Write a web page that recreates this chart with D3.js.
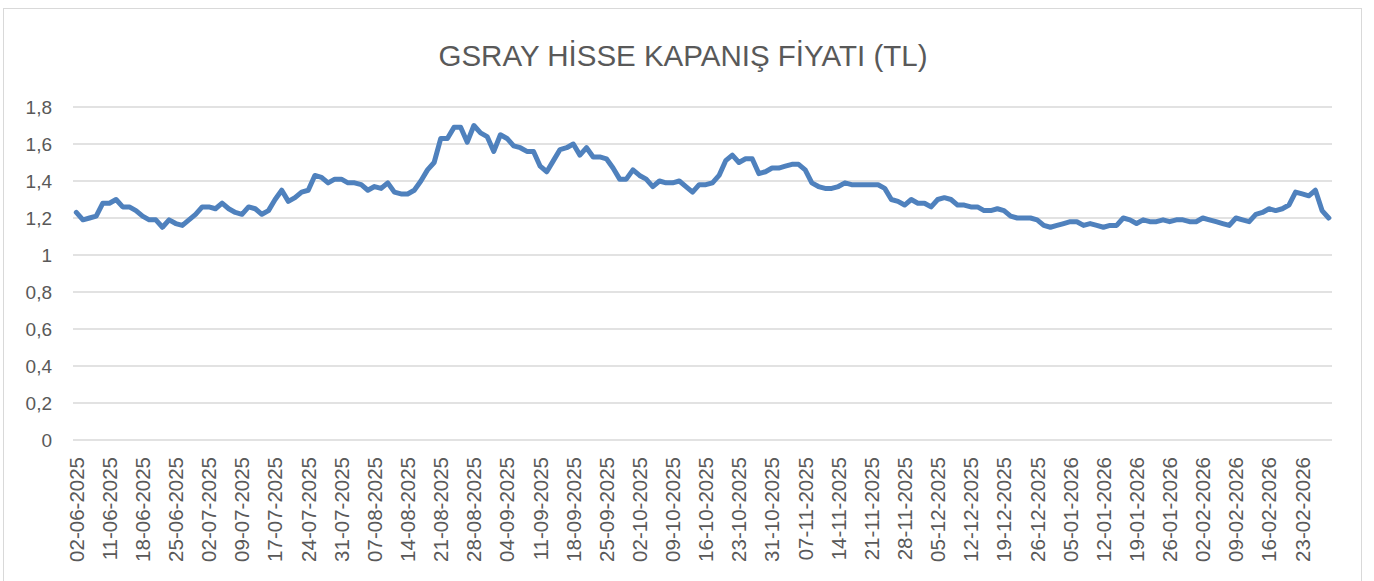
<!DOCTYPE html>
<html>
<head>
<meta charset="utf-8">
<script src="https://cdn.jsdelivr.net/npm/d3@7"></script>
<style>
  html, body { margin: 0; padding: 0; background: #ffffff; }
  svg { display: block; }
</style>
</head>
<body>
<svg id="chart" width="1374" height="581"></svg>
<script>
const title = "GSRAY HİSSE KAPANIŞ FİYATI (TL)";

const dates = [
  "02-06-2025","03-06-2025","04-06-2025","05-06-2025","10-06-2025","11-06-2025","12-06-2025","13-06-2025","16-06-2025","17-06-2025",
  "18-06-2025","19-06-2025","20-06-2025","23-06-2025","24-06-2025","25-06-2025","26-06-2025","27-06-2025","30-06-2025",
  "01-07-2025","02-07-2025","03-07-2025","04-07-2025","07-07-2025","08-07-2025","09-07-2025","10-07-2025","11-07-2025","14-07-2025",
  "16-07-2025","17-07-2025","18-07-2025","21-07-2025","22-07-2025","23-07-2025","24-07-2025","25-07-2025","28-07-2025","29-07-2025",
  "30-07-2025","31-07-2025",
  "01-08-2025","04-08-2025","05-08-2025","06-08-2025","07-08-2025","08-08-2025","11-08-2025","12-08-2025","13-08-2025","14-08-2025",
  "15-08-2025","18-08-2025","19-08-2025","20-08-2025","21-08-2025","22-08-2025","25-08-2025","26-08-2025","27-08-2025","28-08-2025",
  "29-08-2025",
  "01-09-2025","02-09-2025","03-09-2025","04-09-2025","05-09-2025","08-09-2025","09-09-2025","10-09-2025","11-09-2025","12-09-2025",
  "15-09-2025","16-09-2025","17-09-2025","18-09-2025","19-09-2025","22-09-2025","23-09-2025","24-09-2025","25-09-2025","26-09-2025",
  "29-09-2025","30-09-2025",
  "01-10-2025","02-10-2025","03-10-2025","06-10-2025","07-10-2025","08-10-2025","09-10-2025","10-10-2025","13-10-2025","14-10-2025",
  "15-10-2025","16-10-2025","17-10-2025","20-10-2025","21-10-2025","22-10-2025","23-10-2025","24-10-2025","27-10-2025","28-10-2025",
  "30-10-2025","31-10-2025",
  "03-11-2025","04-11-2025","05-11-2025","06-11-2025","07-11-2025","10-11-2025","11-11-2025","12-11-2025","13-11-2025","14-11-2025",
  "17-11-2025","18-11-2025","19-11-2025","20-11-2025","21-11-2025","24-11-2025","25-11-2025","26-11-2025","27-11-2025","28-11-2025",
  "01-12-2025","02-12-2025","03-12-2025","04-12-2025","05-12-2025","08-12-2025","09-12-2025","10-12-2025","11-12-2025","12-12-2025",
  "15-12-2025","16-12-2025","17-12-2025","18-12-2025","19-12-2025","22-12-2025","23-12-2025","24-12-2025","25-12-2025","26-12-2025",
  "29-12-2025","30-12-2025","31-12-2025",
  "02-01-2026","05-01-2026","06-01-2026","07-01-2026","08-01-2026","09-01-2026","12-01-2026","13-01-2026","14-01-2026","15-01-2026",
  "16-01-2026","19-01-2026","20-01-2026","21-01-2026","22-01-2026","23-01-2026","26-01-2026","27-01-2026","28-01-2026","29-01-2026",
  "30-01-2026",
  "02-02-2026","03-02-2026","04-02-2026","05-02-2026","06-02-2026","09-02-2026","10-02-2026","11-02-2026","12-02-2026","13-02-2026",
  "16-02-2026","17-02-2026","18-02-2026","19-02-2026","20-02-2026","23-02-2026","24-02-2026","25-02-2026","26-02-2026","27-02-2026"
];

const prices = [
  1.23,1.19,1.20,1.21,1.28,1.28,1.30,1.26,1.26,1.24,
  1.21,1.19,1.19,1.15,1.19,1.17,1.16,1.19,1.22,1.26,
  1.26,1.25,1.28,1.25,1.23,1.22,1.26,1.25,1.22,1.24,
  1.30,1.35,1.29,1.31,1.34,1.35,1.43,1.42,1.39,1.41,
  1.41,1.39,1.39,1.38,1.35,1.37,1.36,1.39,1.34,1.33,
  1.33,1.35,1.40,1.46,1.50,1.63,1.63,1.69,1.69,1.61,
  1.70,1.66,1.64,1.56,1.65,1.63,1.59,1.58,1.56,1.56,
  1.48,1.45,1.51,1.57,1.58,1.60,1.54,1.58,1.53,1.53,
  1.52,1.47,1.41,1.41,1.46,1.43,1.41,1.37,1.40,1.39,
  1.39,1.40,1.37,1.34,1.38,1.38,1.39,1.43,1.51,1.54,
  1.50,1.52,1.52,1.44,1.45,1.47,1.47,1.48,1.49,1.49,
  1.46,1.39,1.37,1.36,1.36,1.37,1.39,1.38,1.38,1.38,
  1.38,1.38,1.36,1.30,1.29,1.27,1.30,1.28,1.28,1.26,
  1.30,1.31,1.30,1.27,1.27,1.26,1.26,1.24,1.24,1.25,
  1.24,1.21,1.20,1.20,1.20,1.19,1.16,1.15,1.16,1.17,
  1.18,1.18,1.16,1.17,1.16,1.15,1.16,1.16,1.20,1.19,
  1.17,1.19,1.18,1.18,1.19,1.18,1.19,1.19,1.18,1.18,
  1.20,1.19,1.18,1.17,1.16,1.20,1.19,1.18,1.22,1.23,
  1.25,1.24,1.25,1.27,1.34,1.33,1.32,1.35,1.24,1.20
];

const xTickLabels = [
  "02-06-2025","11-06-2025","18-06-2025","25-06-2025","02-07-2025","09-07-2025","17-07-2025","24-07-2025",
  "31-07-2025","07-08-2025","14-08-2025","21-08-2025","28-08-2025","04-09-2025","11-09-2025","18-09-2025",
  "25-09-2025","02-10-2025","09-10-2025","16-10-2025","23-10-2025","31-10-2025","07-11-2025","14-11-2025",
  "21-11-2025","28-11-2025","05-12-2025","12-12-2025","19-12-2025","26-12-2025","05-01-2026","12-01-2026",
  "19-01-2026","26-01-2026","02-02-2026","09-02-2026","16-02-2026","23-02-2026"
];

const yTicks = [0, 0.2, 0.4, 0.6, 0.8, 1, 1.2, 1.4, 1.6, 1.8];

const svg = d3.select("#chart");
const plot = { left: 73, right: 1332, top: 107, bottom: 440 };
const textColor = "#595959";
const font = "'Liberation Sans', Arial, sans-serif";

// chart area border
svg.append("rect")
  .attr("x", 3.5).attr("y", 8.5)
  .attr("width", 1358).attr("height", 600)
  .attr("fill", "#ffffff")
  .attr("stroke", "#d9d9d9")
  .attr("stroke-width", 1);

const x = d3.scaleBand().domain(dates).range([plot.left, plot.right]).padding(0);
const y = d3.scaleLinear().domain([0, 1.8]).range([plot.bottom, plot.top]);
const cx = d => x(d) + x.bandwidth() / 2;
const fmt = v => d3.format(".1f")(v).replace(/\.0$/, "").replace(".", ",");

// gridlines
svg.append("g")
  .selectAll("line")
  .data(yTicks)
  .join("line")
  .attr("x1", plot.left).attr("x2", plot.right)
  .attr("y1", d => y(d)).attr("y2", d => y(d))
  .attr("stroke", "#d9d9d9")
  .attr("stroke-width", 1.5);

// y axis labels
const yAxis = d3.axisLeft(y).tickValues(yTicks).tickFormat(fmt).tickSize(0).tickPadding(0);
const yg = svg.append("g").attr("transform", `translate(52,0)`).call(yAxis);
yg.select(".domain").remove();
yg.selectAll("text")
  .attr("fill", textColor)
  .style("font-family", font)
  .style("font-size", "19px");

// x axis labels
const xAxis = d3.axisBottom(x).tickValues(xTickLabels).tickSize(0).tickPadding(0);
const xg = svg.append("g").attr("transform", `translate(0,457)`).call(xAxis);
xg.select(".domain").remove();
xg.selectAll("text")
  .attr("fill", textColor)
  .style("font-family", font)
  .style("font-size", "20.5px")
  .attr("text-anchor", "end")
  .attr("transform", "rotate(-90)")
  .attr("x", 0)
  .attr("y", 0)
  .attr("dy", "0.36em");

// line
const line = d3.line()
  .x((d, i) => cx(dates[i]))
  .y(d => y(d));

svg.append("path")
  .datum(prices)
  .attr("d", line)
  .attr("fill", "none")
  .attr("stroke", "#4f81bd")
  .attr("stroke-width", 5)
  .attr("stroke-linejoin", "round")
  .attr("stroke-linecap", "round");

// title
svg.append("text")
  .attr("x", 683).attr("y", 66)
  .attr("text-anchor", "middle")
  .attr("fill", textColor)
  .style("font-family", font)
  .style("font-size", "29.5px")
  .text(title);
</script>
</body>
</html>
